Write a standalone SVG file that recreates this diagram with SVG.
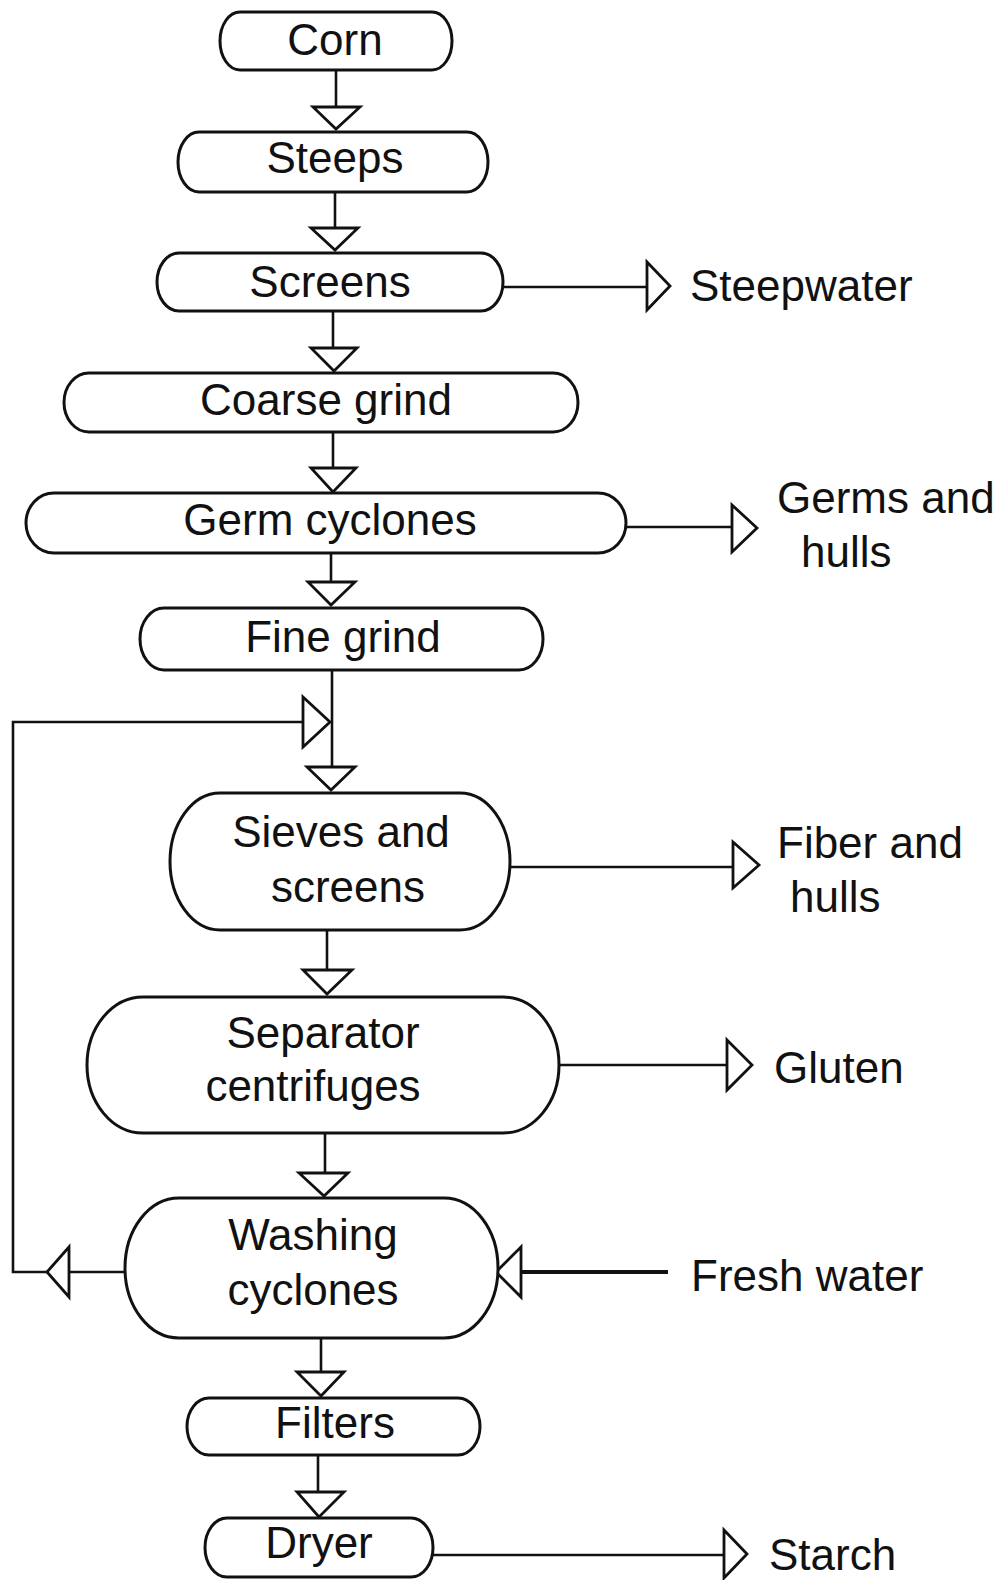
<svg xmlns="http://www.w3.org/2000/svg" width="1007" height="1580" viewBox="0 0 1007 1580">
<style>
.node{fill:#fff;stroke:#111;stroke-width:3}
.ln{fill:none;stroke:#111;stroke-width:2.6}
.arr{fill:#fff;stroke:#111;stroke-width:2.8;stroke-linejoin:miter}
.t{font-family:"Liberation Sans",Arial,sans-serif;font-size:44px;fill:#111}
.c{text-anchor:middle}
</style>
<rect width="1007" height="1580" fill="#fff"/>
<g id="connectors">
<path class="ln" d="M336,70V107M335,192V228M333,311V348M333,432V468M331,553V582M332,670V767M327,930V970M325,1133V1173M321,1338V1372M318,1455V1492"/>
<path class="ln" d="M503,287H647M626,527H732M510,867H733M559,1065H727M433,1555H724"/>
<path class="ln" d="M125,1272H47M47,1272H13V722H303"/>
<path class="ln" style="stroke-width:4" d="M668,1272H522"/>
<polygon class="arr" points="313,107 360,107 336,129"/>
<polygon class="arr" points="311,228 358,228 335,250"/>
<polygon class="arr" points="311,348 357,348 334,371"/>
<polygon class="arr" points="311,468 356,468 333,492"/>
<polygon class="arr" points="308,582 355,582 331,605"/>
<polygon class="arr" points="307,767 355,767 331,790"/>
<polygon class="arr" points="303,970 352,970 327,994"/>
<polygon class="arr" points="299,1173 348,1173 324,1196"/>
<polygon class="arr" points="297,1372 344,1372 321,1396"/>
<polygon class="arr" points="297,1492 344,1492 319,1517"/>
<polygon class="arr" points="647,262 670,286 647,310"/>
<polygon class="arr" points="732,505 757,528 732,552"/>
<polygon class="arr" points="733,842 759,865 733,888"/>
<polygon class="arr" points="727,1040 752,1065 727,1090"/>
<polygon class="arr" points="724,1530 747,1554 724,1578"/>
<polygon class="arr" points="303,697 330,722 303,747"/>
<polygon class="arr" points="69,1247 47,1272 69,1297"/>
<polygon class="arr" points="521,1247 496,1272 521,1297"/>
</g>
<g id="corn"><rect class="node" x="220" y="12" width="232" height="58" rx="20" ry="29"/><text class="t c" x="335" y="55">Corn</text></g>
<g id="steeps"><rect class="node" x="178" y="132" width="310" height="60" rx="21" ry="30"/><text class="t c" x="335" y="173">Steeps</text></g>
<g id="screens"><rect class="node" x="157" y="253" width="346" height="58" rx="22" ry="29"/><text class="t c" x="330" y="297">Screens</text></g>
<g id="coarse-grind"><rect class="node" x="64" y="373" width="514" height="59" rx="25" ry="29.5"/><text class="t c" x="326" y="415">Coarse grind</text></g>
<g id="germ-cyclones"><rect class="node" x="26" y="493" width="600" height="60" rx="28" ry="30"/><text class="t c" x="330" y="535">Germ cyclones</text></g>
<g id="fine-grind"><rect class="node" x="140" y="608" width="403" height="62" rx="24" ry="31"/><text class="t c" x="343" y="652">Fine grind</text></g>
<g id="sieves"><rect class="node" x="170" y="793" width="340" height="137" rx="50" ry="68.5"/><text class="t c" x="341" y="847">Sieves and</text><text class="t c" x="348" y="902">screens</text></g>
<g id="separator"><rect class="node" x="87" y="997" width="472" height="136" rx="56" ry="68"/><text class="t c" x="323" y="1048">Separator</text><text class="t c" x="313" y="1101">centrifuges</text></g>
<g id="washing"><rect class="node" x="125" y="1198" width="373" height="140" rx="54" ry="70"/><text class="t c" x="313" y="1250">Washing</text><text class="t c" x="313" y="1305">cyclones</text></g>
<g id="filters"><rect class="node" x="187" y="1398" width="293" height="57" rx="22" ry="28.5"/><text class="t c" x="335" y="1438">Filters</text></g>
<g id="dryer"><rect class="node" x="205" y="1518" width="228" height="59" rx="22" ry="29.5"/><text class="t c" x="319" y="1558">Dryer</text></g>
<g id="labels">
<text class="t" x="690" y="301">Steepwater</text>
<text class="t" x="777" y="513">Germs and</text>
<text class="t" x="801" y="567">hulls</text>
<text class="t" x="777" y="858">Fiber and</text>
<text class="t" x="790" y="912">hulls</text>
<text class="t" x="774" y="1083">Gluten</text>
<text class="t" x="691" y="1291">Fresh water</text>
<text class="t" x="769" y="1570">Starch</text>
</g>
</svg>
